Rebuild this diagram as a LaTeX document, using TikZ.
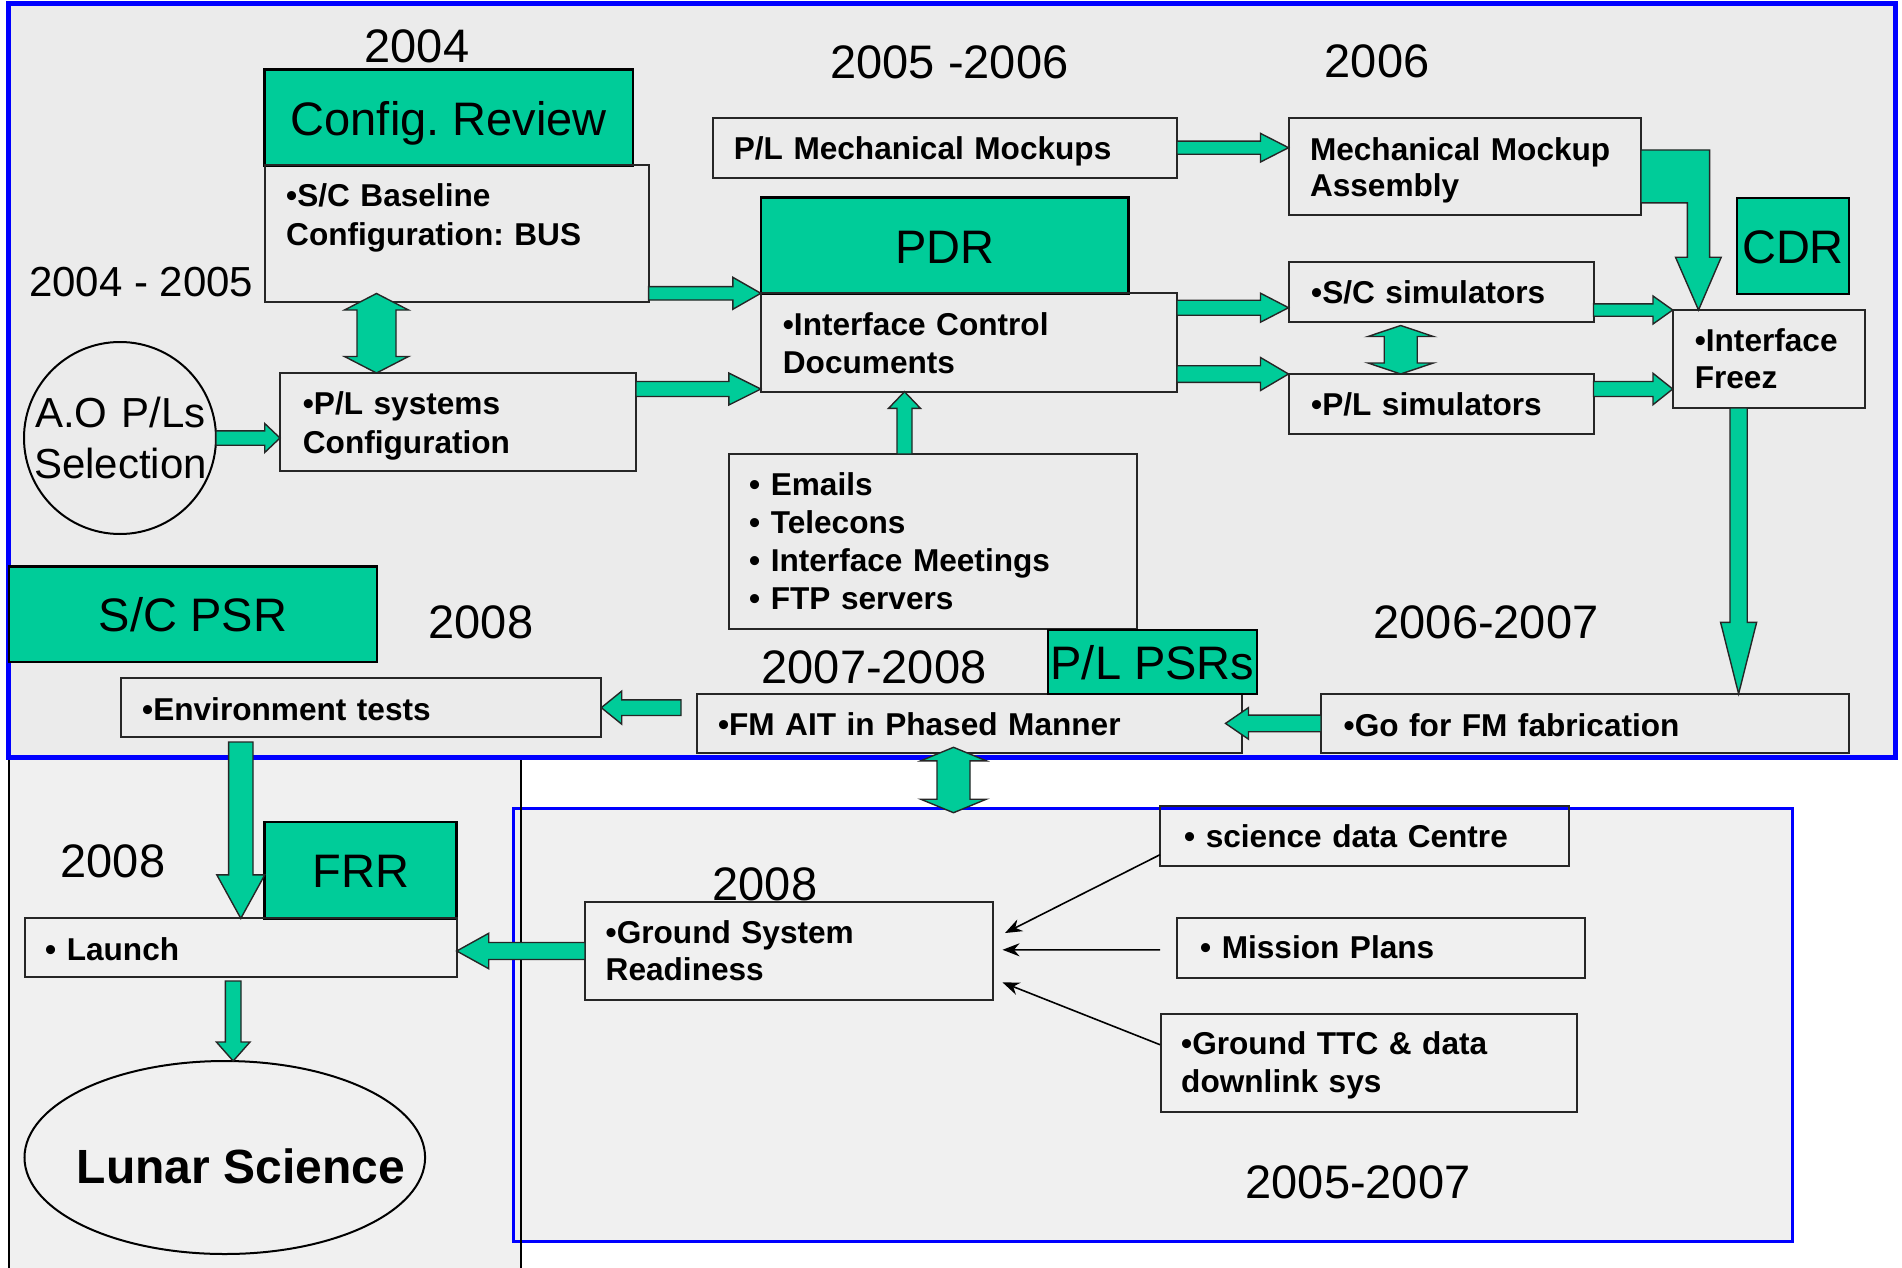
\documentclass[tikz,border=0pt]{standalone}
\usepackage{fontspec}
\setmainfont{Liberation Sans}
\usetikzlibrary{calc,shapes.geometric,arrows.meta}
\frenchspacing
\definecolor{teal1}{HTML}{00CC99}
\definecolor{bgtop}{HTML}{EBEBEB}
\definecolor{bglow}{HTML}{F0F0F0}
\definecolor{bblue}{HTML}{0000FF}
% block arrow: from, to, half shaft, half head, head length
\newcommand\blkarrow[5]{%
  \path (#1) coordinate (baA);
  \path (#2) coordinate (baB);
  \path ($(baB)!#5pt!(baA)$) coordinate (baC);
  \draw[blockarrow] ($(baA)!#3pt!90:(baB)$) -- ($(baC)!#3pt!90:(baB)$) -- ($(baC)!#4pt!90:(baB)$) -- (baB) -- ($(baC)!#4pt!-90:(baB)$) -- ($(baC)!#3pt!-90:(baB)$) -- ($(baA)!#3pt!-90:(baB)$) -- cycle;}
% double block arrow
\newcommand\dblarrow[5]{%
  \path (#1) coordinate (baA);
  \path (#2) coordinate (baB);
  \path ($(baA)!#5pt!(baB)$) coordinate (baD);
  \path ($(baB)!#5pt!(baA)$) coordinate (baC);
  \draw[blockarrow] (baA) -- ($(baD)!#4pt!90:(baB)$) -- ($(baD)!#3pt!90:(baB)$) -- ($(baC)!#3pt!90:(baB)$) -- ($(baC)!#4pt!90:(baB)$) -- (baB) -- ($(baC)!#4pt!-90:(baB)$) -- ($(baC)!#3pt!-90:(baB)$) -- ($(baD)!#3pt!-90:(baB)$) -- ($(baD)!#4pt!-90:(baB)$) -- cycle;}
\begin{document}
\frenchspacing
\begin{tikzpicture}[x=1pt,y=-1pt,
  panel/.style={anchor=north west, inner sep=0pt, outer sep=0pt},
  bx/.style={anchor=north west, inner sep=0pt, outer sep=0pt, draw=black!85, line width=2pt},
  gbx/.style={bx, draw=black, line width=2.5pt, fill=teal1},
  el/.style={ellipse, draw=black, line width=2pt, inner sep=0pt, outer sep=0pt},
  tb/.style={anchor=base west, inner sep=0pt, text width=700pt, align=left, font=\fontsize{31.6}{38.5}\selectfont\bfseries},
  gt/.style={anchor=base, inner sep=0pt, font=\fontsize{47}{50}\selectfont},
  yr/.style={anchor=base, inner sep=0pt, font=\fontsize{47}{50}\selectfont},
  blockarrow/.style={fill=teal1, draw=black!85, line width=1.4pt, line join=miter},
  thinarr/.style={draw=black, line width=1.6pt, -{Stealth[length=17pt,width=13pt]}},
]
\useasboundingbox (0,0) rectangle (1902,1268);
\fill[white] (0,0) rectangle (1902,1268);

% ---------- panels ----------
\node[panel, fill=bglow, minimum width=512pt, minimum height=520pt] (lpan) at (9,757) {};
\node[panel, draw=bblue, line width=3pt, fill=bglow, minimum width=1278.6pt, minimum height=433pt] (gpan) at (513.4,808) {};
\draw[black, line width=1.5pt] (lpan.south west) -- (lpan.north west) -- (lpan.north east) -- (lpan.south east);
\node[panel, draw=bblue, line width=5pt, fill=bgtop, minimum width=1887pt, minimum height=753.5pt] (tpan) at (8,4) {};

% ---------- boxes ----------
\node[gbx, minimum width=368.3pt, minimum height=95.8pt] (crg) at (264.7,69.6) {};
\node[bx, minimum width=383.6pt, minimum height=136.6pt] (blb) at (265,165.4) {};
\node[bx, minimum width=356pt, minimum height=98.4pt] (psb) at (280,373) {};
\node[el, minimum width=192pt, minimum height=192pt] (aoe) at (120,438) {};
\node[bx, minimum width=464.4pt, minimum height=60pt] (pmm) at (712.6,117.7) {};
\node[bx, minimum width=352.5pt, minimum height=97.6pt] (mma) at (1288.5,117.7) {};
\node[gbx, minimum width=367.8pt, minimum height=95.6pt] (pdr) at (760.8,197.7) {};
\node[bx, minimum width=416.2pt, minimum height=98.4pt] (icd) at (760.8,293.3) {};
\node[bx, minimum width=408.5pt, minimum height=175pt] (ems) at (728.5,454) {};
\node[bx, minimum width=305pt, minimum height=60pt] (scs) at (1288.5,262) {};
\node[bx, minimum width=305pt, minimum height=59.5pt] (pls) at (1288.5,374) {};
\node[gbx, minimum width=112pt, minimum height=96pt] (cdr) at (1737,198) {};
\node[bx, minimum width=192.3pt, minimum height=98pt] (ifz) at (1672.7,310) {};
\node[bx, minimum width=528pt, minimum height=59.2pt] (gfm) at (1321,693.8) {};
\node[bx, minimum width=545pt, minimum height=59.3pt] (fma) at (696.8,694) {};
\node[gbx, minimum width=209pt, minimum height=64pt] (plp) at (1048,630) {};
\node[bx, minimum width=480.8pt, minimum height=59.3pt] (env) at (120.5,678) {};
\node[gbx, minimum width=368pt, minimum height=95.5pt] (scp) at (9,566.5) {};
\node[gbx, minimum width=192pt, minimum height=96.4pt] (frr) at (264.7,822) {};
\node[bx, minimum width=432.2pt, minimum height=59pt] (lau) at (24.5,918.4) {};
\node[el, minimum width=400.6pt, minimum height=193pt] (lse) at (224.8,1157.5) {};
\node[bx, minimum width=407.6pt, minimum height=98pt] (gsr) at (585,902) {};
\node[bx, minimum width=408.5pt, minimum height=60pt] (sdc) at (1160,805.7) {};
\node[bx, minimum width=407.7pt, minimum height=60.2pt] (mpl) at (1176.8,917.8) {};
\node[bx, minimum width=415.8pt, minimum height=98pt] (ttc) at (1160.7,1014) {};

% ---------- helper coordinates ----------
\coordinate (y389) at (0,389);
\coordinate (y307) at (0,307.7);
\coordinate (x904) at (904.5,0);
\coordinate (x1738) at (1738.6,0);
\coordinate (x240) at (240.8,0);
\coordinate (x233) at (233.2,0);
\coordinate (x376) at (376.5,0);
\coordinate (x1400) at (1400.7,0);
\coordinate (x953) at (953.5,0);
\coordinate (t12) at ($(fma.east |- gfm.west)+(-16.3,0)$);
\coordinate (s13) at ($(fma.west |- env.east)+(-15.8,0)$);

% ---------- block arrows ----------
\blkarrow{aoe.east}{psb.west |- aoe.east}{7.2}{14.5}{15.3}
\blkarrow{blb.east |- icd.north west}{icd.north west}{6.7}{16}{28}
\blkarrow{psb.east |- y389}{icd.west |- y389}{7.5}{16}{32}
\blkarrow{pmm.east}{mma.west |- pmm.east}{6.6}{14.3}{28}
\blkarrow{icd.east |- y307}{scs.west |- y307}{7.5}{14.5}{28}
\blkarrow{icd.east |- pls.north west}{pls.north west}{8.3}{16.5}{28}
\blkarrow{ems.north -| x904}{icd.south -| x904}{7.5}{16}{16.7}
\blkarrow{scs.east |- ifz.north west}{ifz.north west}{6.2}{14}{19.7}
\blkarrow{pls.east |- y389}{ifz.west |- y389}{7.5}{15.7}{19.7}
\blkarrow{ifz.south -| x1738}{gfm.north -| x1738}{8.6}{18}{71.4}
\blkarrow{gfm.west}{t12}{8.3}{15.8}{23}
\blkarrow{s13}{env.east}{7.8}{16.5}{20.4}
\blkarrow{$(env.south -| x240)+(0,4.7)$}{lau.north -| x240}{12.2}{24}{43.6}
\blkarrow{gsr.west}{lau.east |- gsr.west}{8.5}{17.7}{32}
\blkarrow{$(lau.south -| x233)+(0,3.6)$}{lse.north -| x233}{7.8}{16.8}{19}
\dblarrow{$(blb.south -| x376)+(0,-8.5)$}{psb.north -| x376}{19.5}{32}{16.5}
\dblarrow{$(scs.south -| x1400)+(0,3.5)$}{pls.north -| x1400}{16.5}{32.7}{11}
\dblarrow{$(fma.south -| x953)+(0,-6)$}{$(gpan.north -| x953)+(0,4.7)$}{16.5}{32.8}{13.5}
% bent arrow Mechanical Mockup Assembly -> Interface Freez
\draw[blockarrow] ($(mma.north east)+(0,32.3)$) -- ++(68.6,0) -- ++(0,107.2) -- ++(11.6,0)
  -- ($(ifz.north west)+(25.8,0)$) -- ++(-23,-52.8) -- ++(11.9,0) -- ++(0,-54.4) -- ($(mma.north east)+(0,85.1)$) -- cycle;

% ---------- thin arrows ----------
\draw[thinarr] ($(sdc.south west)+(0,-11)$) -- ($(gsr.east)+(12.4,-18)$);
\draw[thinarr] ($(mpl.west)+(-16.8,1.9)$) -- ($(gsr.east)+(9.9,-1.2)$);
\draw[thinarr] ($(ttc.west)+(-0.7,-18.3)$) -- ($(gsr.east)+(9.9,31.4)$);

% ---------- green box titles ----------
\node[gt] (tcrg) at (448.8,135.7) {Config. Review};
\node[gt] (tpdr) at (944.7,263.3) {PDR};
\node[gt] (tcdr) at (1793,263) {CDR};
\node[gt] (tscp) at (193,631.5) {S/C PSR};
\node[gt] (tfrr) at (360.7,887.6) {FRR};
\node[gt] (tplp) at (1152.5,679.3) {P/L PSRs};

% ---------- years ----------
\node[yr] (y1) at (417,62.5) {2004};
\node[anchor=base west, inner sep=0pt, font=\fontsize{42}{46}\selectfont] (y2) at (29,296.4) {2004 - 2005};
\node[yr] (y3) at (949.5,78.3) {2005 -2006};
\node[yr] (y4) at (1377,78) {2006};
\node[yr] (y5) at (1486,638) {2006-2007};
\node[yr] (y6) at (874,683.3) {2007-2008};
\node[yr] (y7) at (481,638.4) {2008};
\node[yr] (y8) at (113,877.5) {2008};
\node[yr] (y9) at (765,900) {2008};
\node[yr] (y10) at (1358,1198) {2005-2007};

% ---------- box texts ----------
\node[anchor=base, inner sep=0pt, text width=200pt, align=center, font=\fontsize{42}{51.5}\selectfont] (taoe) at (120.5,427) {A.O P/Ls\\Selection};
\node[tb, font=\fontsize{31.6}{39}\selectfont\bfseries] (tblb) at (286,207) {•S/C Baseline\\Configuration: BUS};
\node[tb, font=\fontsize{31.6}{39.5}\selectfont\bfseries] (tpsb) at (302.7,414) {•P/L systems\\Configuration};
\node[tb] (tpmm) at (733.6,160) {P/L Mechanical Mockups};
\node[tb, font=\fontsize{31.6}{36.6}\selectfont\bfseries] (tmma) at (1309.8,160.4) {Mechanical Mockup\\Assembly};
\node[tb, font=\fontsize{31.6}{38.3}\selectfont\bfseries] (ticd) at (782.7,335) {•Interface Control\\Documents};
\node[tb] (tscs) at (1311,303) {•S/C simulators};
\node[tb] (tpls) at (1311,415.7) {•P/L simulators};
\node[tb, font=\fontsize{31.6}{36.6}\selectfont\bfseries] (tifz) at (1694.6,351.4) {•Interface\\Freez};
\node[tb, font=\fontsize{31.6}{38.1}\selectfont\bfseries] (tems) at (749,495) {• Emails\\• Telecons\\• Interface Meetings\\• FTP servers};
\node[tb] (tgfm) at (1343.5,736) {•Go for FM fabrication};
\node[tb] (tfma) at (717.8,735) {•FM AIT in Phased Manner};
\node[tb] (tenv) at (142,720) {•Environment tests};
\node[tb] (tlau) at (45,960) {• Launch};
\node[tb, font=\fontsize{31.6}{37.7}\selectfont\bfseries] (tgsr) at (605.5,943) {•Ground System\\Readiness};
\node[tb] (tsdc) at (1184,847.7) {• science data Centre};
\node[tb] (tmpl) at (1200,958.8) {• Mission Plans};
\node[tb, font=\fontsize{31.6}{37.7}\selectfont\bfseries] (tttc) at (1181,1054.8) {•Ground TTC \& data\\downlink sys};
\node[anchor=base, inner sep=0pt, font=\fontsize{48}{52}\selectfont\bfseries] (tlse) at (241,1183) {Lunar Science};
\end{tikzpicture}
\end{document}
